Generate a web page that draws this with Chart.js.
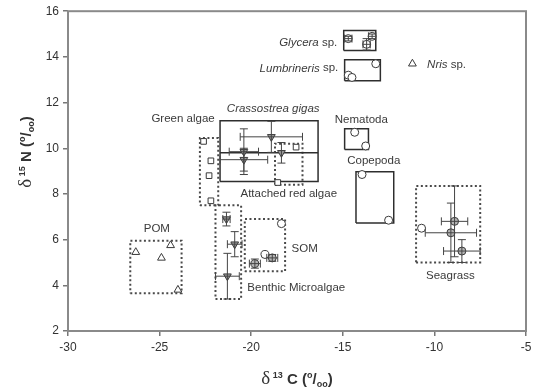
<!DOCTYPE html>
<html>
<head>
<meta charset="utf-8">
<script src="https://cdn.jsdelivr.net/npm/chart.js@4/dist/chart.umd.min.js"></script>
<style>
  html, body { margin: 0; padding: 0; background: #fff; }
  canvas { display: block; }
</style>
</head>
<body>
<canvas id="isoChart" width="536" height="389"></canvas>
<script>
// ========== DATA (d13C = x, d15N = y) ==========
const xTicks = [-30, -25, -20, -15, -10, -5];
const yTicks = [2, 4, 6, 8, 10, 12, 14, 16];

// POM (open triangles)
const pomX = [-26.3, -24.9, -24.4, -24.0];
const pomY = [5.45, 5.2, 5.75, 3.8];

// Green algae (open squares)
const greenX = [-22.6, -22.2, -22.3, -22.2];
const greenY = [10.3, 9.45, 8.8, 7.7];

// Attached red algae (open squares)
const redX = [-17.55, -18.55];
const redY = [10.05, 8.5];

// Crassostrea gigas (filled down triangles, mean +- sd)
const crasX = [-18.9, -20.4, -20.4, -18.35];
const crasY = [10.5, 9.85, 9.5, 9.8];
const crasXErr = [1.7, 0.8, 1.3, 0];
const crasYErr = [0.68, 1.0, 0.5, 0.45];

// Benthic microalgae (filled down triangles)
const benX = [-21.35, -20.9, -21.3];
const benY = [6.9, 5.8, 4.4];
const benXErr = [0.2, 0.4, 0.65];
const benYErr = [0.3, 0.55, 1.0];

// SOM
const somX = [-19.8, -19.25, -18.85, -18.35];
const somY = [4.95, 5.35, 5.2, 6.7];
const somXErr = [0.3, 0, 0.3, 0];
const somYErr = [0.2, 0, 0.15, 0];

// Seagrass
const seaX = [-10.7, -8.9, -9.1, -8.5];
const seaY = [6.5, 6.8, 6.3, 5.5];
const seaXErr = [0, 0.72, 1.4, 1.0];
const seaYErr = [0, 1.55, 1.3, 0.5];

// Consumers (open circles)
const nemX = [-14.35, -13.75];
const nemY = [10.7, 10.1];
const copX = [-13.95, -12.5];
const copY = [8.85, 6.85];
const glyX = [-14.7, -13.7, -13.4];
const glyY = [14.8, 14.55, 14.9];
const glyXErr = [0.2, 0.2, 0.2];
const glyYErr = [0.1, 0.25, 0.1];
const lumX = [-14.7, -14.5, -13.2];
const lumY = [13.2, 13.1, 13.7];
const nrisX = [-11.2];
const nrisY = [13.7];

// Group ranges [xmin, xmax, ymin, ymax]
const pomBox = [-26.6, -23.8, 3.65, 5.95];
const greenBox = [-22.8, -21.8, 7.5, 10.45];
const crasBox = [-21.7, -16.35, 8.55, 11.2];
const crasMidY = [9.8];
const redBox = [-18.7, -17.2, 8.4, 10.2];
const benBox = [-21.95, -20.55, 3.4, 7.5];
const somBox = [-20.35, -18.15, 4.62, 6.9];
const seaBox = [-11.0, -7.5, 5.0, 8.35];
const nemBox = [-14.9, -13.6, 9.95, 10.85];
const copBox = [-14.28, -12.22, 6.73, 8.97];
const glyBox = [-14.95, -13.2, 14.28, 15.15];
const lumBox = [-14.9, -12.95, 12.95, 13.88];

// Labels
const labelText = ['Glycera', 'Lumbrineris', 'Nris', 'Crassostrea gigas', 'Green algae', 'Nematoda', 'Copepoda',
    'Attached red algae', 'POM', 'SOM', 'Benthic Microalgae', 'Seagrass'];
const labelTail = [' sp.', ' sp.', ' sp.', '', '', '', '', '', '', '', '', ''];
const labelItalic = [true, true, true, true, false, false, false, false, false, false, false, false];
const labelX = [-15.3, -15.25, -10.4, -18.8, -23.72, -13.99, -13.31, -17.95, -25.15, -17.08, -17.54, -9.13];
const labelY = [14.6, 13.5, 13.65, 11.74, 11.3, 11.26, 9.43, 8.0, 6.48, 5.6, 3.88, 4.43];
const labelAlign = ['right', 'right', 'left', 'center', 'center', 'center', 'center', 'center', 'center', 'center', 'center', 'center'];

// ========== HELPERS ==========
const INK = '#3a3a3a';
const GRAY_FILL = '#9a9a9a';
const LIGHT_FILL = '#b5b5b5';
const FONT = '"Liberation Sans", Arial, sans-serif';

const toPoints = (xs, ys) => xs.map((x, i) => ({ x: x, y: ys[i] }));

const boxPoints = (b) => [
    { x: b[0], y: b[2] }, { x: b[1], y: b[2] }, { x: b[1], y: b[3] },
    { x: b[0], y: b[3] }, { x: b[0], y: b[2] }
];

const boxSet = (b, dotted) => ({
    data: boxPoints(b),
    showLine: true,
    borderColor: dotted ? '#4a4a4a' : '#2e2e2e',
    borderWidth: dotted ? 2 : 1.5,
    borderDash: dotted ? [2, 2.5] : [],
    pointRadius: 0,
    fill: false,
    tension: 0,
    errX: [], errY: []
});

const markerSet = (xs, ys, style, fill, opts = {}) => ({
    data: toPoints(xs, ys),
    pointStyle: style,
    pointRadius: opts.radius || 4,
    rotation: opts.rotation || 0,
    pointBackgroundColor: fill,
    pointBorderColor: INK,
    pointBorderWidth: 1,
    showLine: false,
    errX: opts.errX || [],
    errY: opts.errY || []
});

// ========== PLUGINS ==========
const errorBars = {
    id: 'errorBars',
    afterDatasetsDraw(chart) {
        const { ctx, scales: { x, y } } = chart;
        ctx.save();
        ctx.strokeStyle = '#444';
        ctx.lineWidth = 1;
        const cap = 4;
        chart.data.datasets.forEach(ds => {
            ds.data.forEach((p, i) => {
                const px = x.getPixelForValue(p.x);
                const py = y.getPixelForValue(p.y);
                const ex = ds.errX[i] || 0;
                const ey = ds.errY[i] || 0;
                ctx.beginPath();
                if (ex > 0) {
                    const x1 = x.getPixelForValue(p.x - ex);
                    const x2 = x.getPixelForValue(p.x + ex);
                    ctx.moveTo(x1, py); ctx.lineTo(x2, py);
                    ctx.moveTo(x1, py - cap); ctx.lineTo(x1, py + cap);
                    ctx.moveTo(x2, py - cap); ctx.lineTo(x2, py + cap);
                }
                if (ey > 0) {
                    const y1 = y.getPixelForValue(p.y - ey);
                    const y2 = y.getPixelForValue(p.y + ey);
                    ctx.moveTo(px, y1); ctx.lineTo(px, y2);
                    ctx.moveTo(px - cap, y1); ctx.lineTo(px + cap, y1);
                    ctx.moveTo(px - cap, y2); ctx.lineTo(px + cap, y2);
                }
                ctx.stroke();
            });
        });
        ctx.restore();
    }
};

const drawRich = (ctx, parts, cx, cy) => {
    let total = 0;
    parts.forEach(p => { ctx.font = p.font; total += ctx.measureText(p.t).width; });
    let cur = cx - total / 2;
    parts.forEach(p => {
        ctx.font = p.font;
        ctx.fillText(p.t, cur, cy + p.dy);
        cur += ctx.measureText(p.t).width;
    });
};

const titleParts = (iso, elem) => [
    { t: 'δ', font: '19px "Liberation Serif", serif', dy: 0 },
    { t: ' ' + iso, font: 'bold 9px ' + FONT, dy: -6 },
    { t: ' ' + elem + ' (', font: 'bold 15px ' + FONT, dy: 0 },
    { t: 'o', font: 'bold 9px ' + FONT, dy: -6 },
    { t: '/', font: 'bold 15px ' + FONT, dy: 0 },
    { t: 'oo', font: 'bold 9px ' + FONT, dy: 3 },
    { t: ')', font: 'bold 15px ' + FONT, dy: 0 }
];

const decorations = {
    id: 'decorations',
    afterDraw(chart) {
        const { ctx, chartArea: a, scales: { x, y } } = chart;
        ctx.save();
        // frame
        ctx.strokeStyle = '#8a8a8a';
        ctx.lineWidth = 2;
        ctx.strokeRect(a.left, a.top, a.right - a.left, a.bottom - a.top);

        // group labels
        ctx.fillStyle = INK;
        ctx.textBaseline = 'middle';
        labelText.forEach((t, i) => {
            const main = (labelItalic[i] ? 'italic ' : '') + '11.5px ' + FONT;
            const tail = '11.5px ' + FONT;
            ctx.font = main;
            const w1 = ctx.measureText(t).width;
            ctx.font = tail;
            const w2 = ctx.measureText(labelTail[i]).width;
            const w = w1 + w2;
            let px = x.getPixelForValue(labelX[i]);
            if (labelAlign[i] === 'center') px -= w / 2;
            if (labelAlign[i] === 'right') px -= w;
            const py = y.getPixelForValue(labelY[i]);
            ctx.textAlign = 'left';
            ctx.font = main;
            ctx.fillText(t, px, py);
            ctx.font = tail;
            ctx.fillText(labelTail[i], px + w1, py);
        });

        // axis titles
        ctx.fillStyle = '#333';
        ctx.textAlign = 'left';
        ctx.textBaseline = 'alphabetic';
        drawRich(ctx, titleParts('13', 'C'), (a.left + a.right) / 2, 384);
        ctx.translate(31, 152);
        ctx.rotate(-Math.PI / 2);
        drawRich(ctx, titleParts('15', 'N'), 0, 0);
        ctx.restore();
    }
};

// ========== CHART ==========
const datasets = [
    markerSet(pomX, pomY, 'triangle', '#fff', { radius: 4.5 }),
    markerSet(greenX, greenY, 'rect', '#fff', { radius: 4 }),
    markerSet(redX, redY, 'rect', '#fff', { radius: 4 }),
    markerSet(crasX, crasY, 'triangle', GRAY_FILL, { radius: 4.5, rotation: 180, errX: crasXErr, errY: crasYErr }),
    markerSet(benX, benY, 'triangle', GRAY_FILL, { radius: 4.5, rotation: 180, errX: benXErr, errY: benYErr }),
    markerSet(somX, somY, 'circle', [LIGHT_FILL, '#fff', LIGHT_FILL, '#fff'], { errX: somXErr, errY: somYErr }),
    markerSet(seaX, seaY, 'circle', ['#fff', LIGHT_FILL, LIGHT_FILL, LIGHT_FILL], { errX: seaXErr, errY: seaYErr }),
    markerSet(nemX, nemY, 'circle', '#fff'),
    markerSet(copX, copY, 'circle', '#fff'),
    markerSet(glyX, glyY, 'circle', '#fff', { errX: glyXErr, errY: glyYErr }),
    markerSet(lumX, lumY, 'circle', '#fff'),
    markerSet(nrisX, nrisY, 'triangle', '#fff', { radius: 4.5 }),
    boxSet(pomBox, true),
    boxSet(greenBox, true),
    boxSet(crasBox, false),
    {
        data: [{ x: crasBox[0], y: crasMidY[0] }, { x: crasBox[1], y: crasMidY[0] }],
        showLine: true, borderColor: '#2e2e2e', borderWidth: 1.5, pointRadius: 0, errX: [], errY: []
    },
    boxSet(redBox, true),
    boxSet(benBox, true),
    boxSet(somBox, true),
    boxSet(seaBox, true),
    boxSet(nemBox, false),
    boxSet(copBox, false),
    boxSet(glyBox, false),
    boxSet(lumBox, false)
];

const tickFont = { family: FONT, size: 12 };

new Chart(document.getElementById('isoChart').getContext('2d'), {
    type: 'scatter',
    data: { datasets: datasets },
    options: {
        responsive: false,
        animation: false,
        layout: { padding: { top: 9, right: 10, left: 0, bottom: 0 } },
        plugins: { legend: { display: false }, tooltip: { enabled: false } },
        scales: {
            x: {
                type: 'linear',
                min: xTicks[0],
                max: xTicks[xTicks.length - 1],
                afterBuildTicks: (s) => { s.ticks = xTicks.map(v => ({ value: v })); },
                afterFit: (s) => { s.height = 58; },
                ticks: { color: '#333', font: tickFont, padding: 4, callback: (v) => String(v) },
                grid: { drawOnChartArea: false, drawTicks: true, tickLength: 5, color: '#777', lineWidth: 1.5 },
                border: { display: false }
            },
            y: {
                type: 'linear',
                min: yTicks[0],
                max: yTicks[yTicks.length - 1],
                afterBuildTicks: (s) => { s.ticks = yTicks.map(v => ({ value: v })); },
                afterFit: (s) => { s.width = 68; },
                ticks: { color: '#333', font: tickFont, padding: 4, callback: (v) => String(v) },
                grid: { drawOnChartArea: false, drawTicks: true, tickLength: 5, color: '#777', lineWidth: 1.5 },
                border: { display: false }
            }
        }
    },
    plugins: [errorBars, decorations]
});
</script>
</body>
</html>
